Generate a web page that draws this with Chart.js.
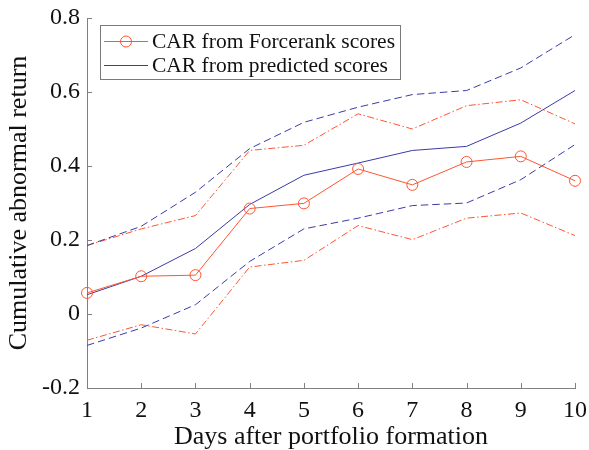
<!DOCTYPE html>
<html>
<head>
<meta charset="utf-8">
<script src="https://cdn.jsdelivr.net/npm/chart.js@4.4.1/dist/chart.umd.min.js"></script>
<style>
  html, body { margin: 0; padding: 0; background: #fff; }
  #wrap { width: 589px; height: 450px; position: relative; }
</style>
</head>
<body>
<div id="wrap"><canvas id="c" width="589" height="450"></canvas></div>
<script>
// ---- data ----
const days = [1, 2, 3, 4, 5, 6, 7, 8, 9, 10];
const carForcerank = [0.057, 0.102, 0.105, 0.285, 0.299, 0.392, 0.349, 0.411, 0.426, 0.360];
const carForcerankUpper = [0.185, 0.230, 0.266, 0.442, 0.456, 0.541, 0.500, 0.563, 0.579, 0.514];
const carForcerankLower = [-0.071, -0.029, -0.054, 0.127, 0.145, 0.239, 0.201, 0.259, 0.273, 0.212];
const carPredicted = [0.052, 0.102, 0.177, 0.296, 0.375, 0.408, 0.442, 0.453, 0.516, 0.604];
const carPredictedUpper = [0.185, 0.237, 0.329, 0.447, 0.518, 0.559, 0.593, 0.604, 0.665, 0.755];
const carPredictedLower = [-0.085, -0.038, 0.025, 0.142, 0.230, 0.259, 0.293, 0.300, 0.363, 0.458];
const yTickValues = [-0.2, 0, 0.2, 0.4, 0.6, 0.8];
const yTickLabels = ['-0.2', '0', '0.2', '0.4', '0.6', '0.8'];
const seriesLabels = ['CAR from Forcerank scores', 'CAR from predicted scores'];
const xTitle = 'Days after portfolio formation';
const yTitle = 'Cumulative abnormal return';

const ORANGE = 'rgb(255,85,50)';
const BLUE = 'rgb(58,58,170)';
const AXIS = '#808080';
const FONT = "'Liberation Serif', 'Times New Roman', serif";

// inward tick marks
const tickPlugin = {
  id: 'inwardTicks',
  afterDatasetsDraw(chart) {
    const ctx = chart.ctx;
    const xs = chart.scales.x, ys = chart.scales.y;
    const a = chart.chartArea;
    ctx.save();
    ctx.strokeStyle = AXIS;
    ctx.lineWidth = 1;
    ctx.beginPath();
    xs.ticks.forEach((t, i) => {
      const px = Math.round(xs.getPixelForTick(i)) + 0.5;
      ctx.moveTo(px, a.bottom);
      ctx.lineTo(px, a.bottom - 5);
    });
    ys.ticks.forEach((t, i) => {
      const py = Math.round(ys.getPixelForTick(i)) + 0.5;
      ctx.moveTo(a.left, py);
      ctx.lineTo(a.left + 5, py);
    });
    ctx.stroke();
    ctx.restore();
  }
};

// legend box drawn inside plot
const legendPlugin = {
  id: 'insideLegend',
  afterDraw(chart) {
    const ctx = chart.ctx;
    const box = { x: 100.5, y: 25.5, w: 300, h: 54 };
    ctx.save();
    ctx.fillStyle = '#fff';
    ctx.fillRect(box.x, box.y, box.w, box.h);
    ctx.strokeStyle = '#7a7a7a';
    ctx.lineWidth = 1;
    ctx.strokeRect(box.x, box.y, box.w, box.h);
    const entries = [chart.data.datasets[0], chart.data.datasets[1]];
    const rows = [41, 65];
    entries.forEach((ds, i) => {
      const y = rows[i];
      ctx.strokeStyle = ds.borderColor;
      ctx.lineWidth = 1;
      ctx.setLineDash([]);
      ctx.beginPath();
      ctx.moveTo(104, y + 0.5);
      ctx.lineTo(148, y + 0.5);
      ctx.stroke();
      if (ds.pointRadius > 0) {
        ctx.beginPath();
        ctx.arc(126, y + 0.5, ds.pointRadius, 0, Math.PI * 2);
        ctx.stroke();
      }
      ctx.fillStyle = '#111';
      ctx.font = '21.5px ' + FONT;
      ctx.textBaseline = 'middle';
      ctx.textAlign = 'left';
      ctx.fillText(ds.label, 152, y + 1);
    });
    ctx.restore();
  }
};

const ds = (label, data, color, dash, radius) => ({
  label, data,
  borderColor: color,
  backgroundColor: 'rgba(0,0,0,0)',
  borderWidth: 1,
  borderDash: dash,
  pointRadius: radius,
  pointHoverRadius: radius,
  pointBorderWidth: 1,
  pointBorderColor: color,
  pointBackgroundColor: 'rgba(0,0,0,0)',
  tension: 0,
  fill: false,
  clip: false
});

new Chart(document.getElementById('c'), {
  type: 'line',
  data: {
    labels: days,
    datasets: [
      ds(seriesLabels[0], carForcerank, ORANGE, [], 5.5),
      ds(seriesLabels[1], carPredicted, BLUE, [], 0),
      ds('Predicted upper', carPredictedUpper, BLUE, [7.5, 4], 0),
      ds('Predicted lower', carPredictedLower, BLUE, [7.5, 4], 0),
      ds('Forcerank upper', carForcerankUpper, ORANGE, [7, 2.5, 1.5, 2.5], 0),
      ds('Forcerank lower', carForcerankLower, ORANGE, [7, 2.5, 1.5, 2.5], 0)
    ]
  },
  options: {
    responsive: false,
    animation: false,
    devicePixelRatio: 1,
    layout: { padding: { left: 0, right: 14, top: 18, bottom: 0 } },
    plugins: { legend: { display: false }, tooltip: { enabled: false } },
    scales: {
      x: {
        type: 'category',
        offset: false,
        grid: { display: false, drawTicks: false },
        border: { display: true, color: AXIS, width: 1 },
        ticks: {
          autoSkip: false, maxRotation: 0, padding: 11,
          color: '#111',
          font: { family: FONT, size: 24, lineHeight: 1 }
        },
        title: {
          display: true, text: xTitle, color: '#111',
          font: { family: FONT, size: 26, lineHeight: 1 },
          padding: { top: 0, bottom: 0 }
        },
        afterFit(scale) {
          scale.height = 62;
          scale.paddingLeft = 0; scale.paddingRight = 0;
        }
      },
      y: {
        type: 'linear',
        min: -0.2, max: 0.8,
        grid: { display: false, drawTicks: false },
        border: { display: true, color: AXIS, width: 1 },
        afterBuildTicks(scale) { scale.ticks = yTickValues.map(v => ({ value: v })); },
        ticks: {
          padding: 7,
          color: '#111',
          font: { family: FONT, size: 24, lineHeight: 1 },
          callback(value, index) { return yTickLabels[index]; }
        },
        title: {
          display: true, text: yTitle, color: '#111',
          font: { family: FONT, size: 26, lineHeight: 1 },
          padding: { top: 6, bottom: 0 }
        },
        afterFit(scale) {
          scale.width = 87;
          scale.paddingTop = 0; scale.paddingBottom = 0;
        }
      }
    }
  },
  plugins: [tickPlugin, legendPlugin]
});
</script>
</body>
</html>
